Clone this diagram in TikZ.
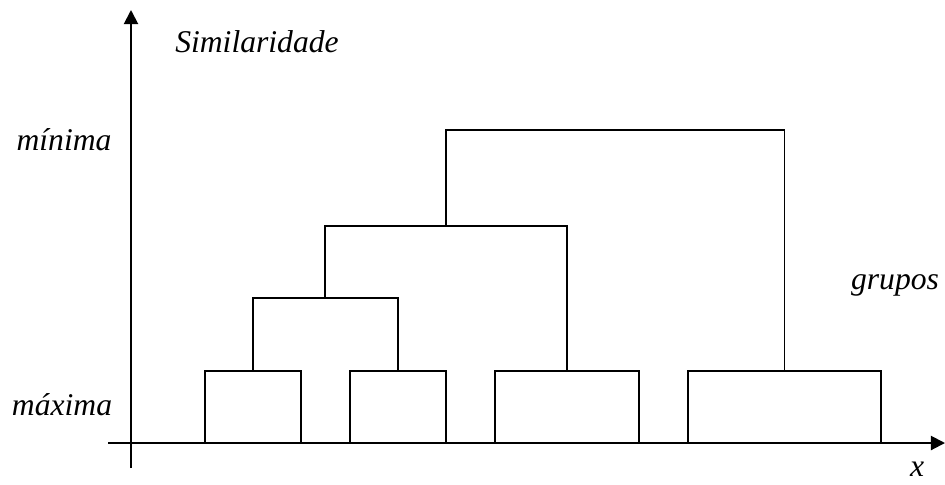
\documentclass[tikz,border=0pt]{standalone}
\usepackage{fontspec}
\setmainfont{Liberation Serif}
\usetikzlibrary{arrows.meta,positioning}

\tikzset{
  axis/.style={line width=1.1pt, -{Triangle[length=8pt,width=8pt]}},
  grp/.style={draw, line width=0.8pt, inner sep=0pt, outer sep=0pt, anchor=south, minimum height=1.44cm},
  link/.style={line width=0.8pt},
  lbl/.style={font=\fontsize{18}{21}\selectfont\itshape}
}

\begin{document}
\begin{tikzpicture}[x=0.02cm, y=-0.02cm]
  \useasboundingbox (0,0) rectangle (945,484);
  % axes
  \coordinate (xs) at (108,443);
  \coordinate (xe) at (945,443);
  \coordinate (ys) at (131,468);
  \coordinate (ye) at (131,10);
  \draw[axis] (xs) -- (xe);
  \draw[axis] (ys) -- (ye);
  % axis labels
  \node[lbl] (sim) at (257,42) {Similaridade};
  \node[lbl] (mini) at (64,140) {mínima};
  \node[lbl] (maxi) at (62,405) {máxima};
  \node[lbl] (grp) at (895,285) {grupos};
  \node[lbl] (xl) at (917,469) {x};
  % groups on the base line
  \node[grp, minimum width=1.92cm] (g1) at (253,443) {};
  \node[grp, minimum width=1.92cm] (g2) at (398,443) {};
  \node[grp, minimum width=2.88cm] (g3) at (567,443) {};
  \node[grp, minimum width=3.86cm] (g4) at (784.5,443) {};
  % joins of the dendrogram
  \coordinate (j1) at (325,298);
  \coordinate (j2) at (446,226);
  \coordinate (j3) at (615,130);
  \draw[link] (g1.north) |- (j1) -| (g2.north);
  \draw[link] (j1) |- (j2) -| (g3.north);
  \draw[link] (j2) |- (j3) -| (g4.north);
\end{tikzpicture}
\end{document}
